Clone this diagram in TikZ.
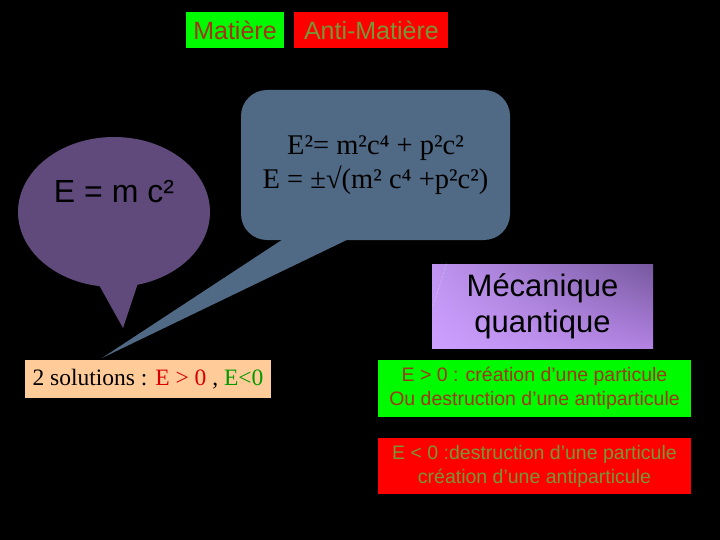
\documentclass[tikz,border=0pt]{standalone}
\usepackage{fontspec}
\setmainfont{Liberation Serif}
\setsansfont{Liberation Sans}
\usetikzlibrary{shapes.geometric, positioning, shadings}
\definecolor{vertvif}{RGB}{0,250,0}
\definecolor{rougevif}{RGB}{255,0,0}
\definecolor{brique}{RGB}{160,55,20}
\definecolor{olive}{RGB}{120,150,55}
\definecolor{violet}{RGB}{96,74,123}
\definecolor{ardoise}{RGB}{80,105,132}
\definecolor{peche}{RGB}{255,204,153}
\definecolor{lavande}{RGB}{205,160,255}
\definecolor{lavandeb}{RGB}{192,148,242}
\definecolor{mauve}{RGB}{118,88,158}
\definecolor{mauvec}{RGB}{178,130,226}
\tikzset{
    titre/.style={rectangle, minimum height=36pt, inner sep=0pt, font=\sffamily\fontsize{25}{28}\selectfont},
    bulle/.style={inner sep=0pt},
    resultat/.style={rectangle, minimum width=313pt, inner sep=0pt, align=center, font=\sffamily\fontsize{19.5}{24}\selectfont},
    queue/.style={line join=miter}
}

\begin{document}
\begin{tikzpicture}[x=1pt, y=-1pt]
    \fill[black] (0,0) rectangle (720,540);
    \useasboundingbox (0,0) rectangle (720,540);

    % en-tete
    \node (matiere) [titre, fill=vertvif, text=brique, minimum width=98pt] at (235,30) {Matière};
    \node (antimatiere) [titre, fill=rougevif, text=olive, minimum width=154pt, right=10pt of matiere] {Anti-Matière};

    % bulles
    \node (energie) [bulle, ellipse, fill=violet, minimum width=192pt, minimum height=150pt] at (114,212) {};
    \coordinate (pointeE) at (123,328);
    \fill[violet, queue] ([xshift=-16pt, yshift=4pt]energie.south) -- (pointeE) -- ([xshift=24pt, yshift=4pt]energie.south) -- cycle;
    \node (emc) [font=\sffamily\fontsize{32}{36}\selectfont] at (114,192) {E = m c²};

    \node (formule) [bulle, rectangle, rounded corners=26pt, fill=ardoise, minimum width=269pt, minimum height=150pt, align=center,
        font=\fontsize{28.5}{34}\selectfont] at (375.5,165) {E²= m²c⁴ + p²c²\\E = ±√(m² c⁴ +p²c²)};
    \coordinate (pointeF) at (102,358);
    \fill[ardoise, queue] ([xshift=-91pt, yshift=2pt]formule.south) -- (pointeF) -- ([xshift=-25pt, yshift=2pt]formule.south) -- cycle;

    % mecanique quantique
    \shade[upper left=lavandeb, lower left=lavande, upper right=mauve, lower right=mauvec]
        (432,264) rectangle (653,348);
    \node (meca) [rectangle, minimum width=221pt, minimum height=84pt, align=center,
        font=\sffamily\fontsize{31}{36}\selectfont] at (542.5,306) {Mécanique\\quantique};
    \draw[white!80!gray, densely dotted, thin] ([xshift=15pt, yshift=1pt]meca.north west) -- ([xshift=1pt, yshift=-43pt]meca.north west);

    % solutions
    \node (solutions) [rectangle, fill=peche, minimum width=246pt, minimum height=38pt, inner sep=0pt,
        font=\fontsize{23.5}{26}\selectfont] at (148,379)
        {2 solutions : \textcolor{red!85!black}{E > 0} , \textcolor{green!60!black}{E<0}};

    \node (positif) [resultat, fill=vertvif, text=brique, minimum height=57pt] at (534.5,388.5)
        {E > 0 : création d’une particule\\Ou destruction d’une antiparticule};
    \node (negatif) [resultat, fill=rougevif, text=olive, minimum height=56pt, below=21pt of positif]
        {E < 0 :destruction d’une particule\\création d’une antiparticule};
\end{tikzpicture}
\end{document}
